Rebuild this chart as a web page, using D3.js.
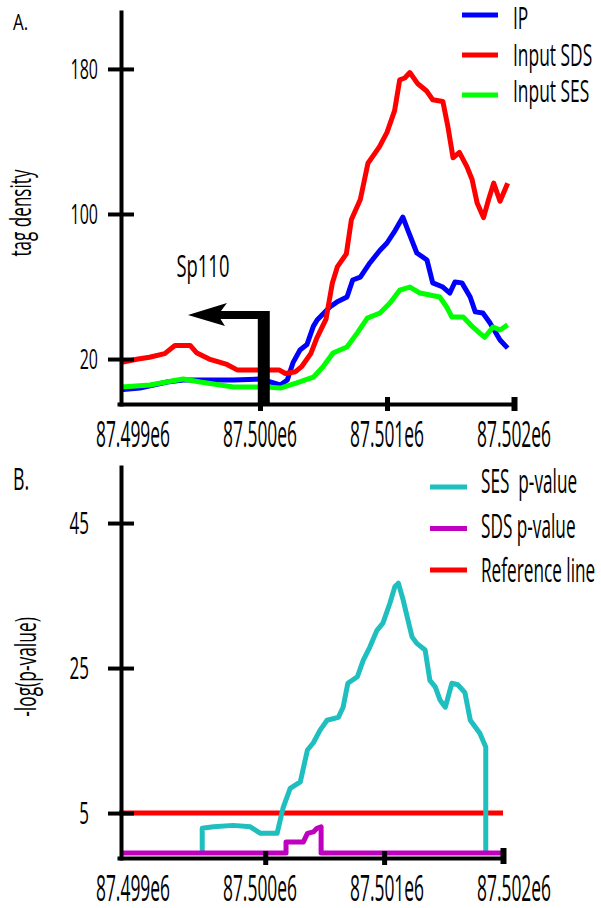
<!DOCTYPE html>
<html>
<head>
<meta charset="utf-8">
<script src="https://cdn.jsdelivr.net/npm/d3@7"></script>
<style>
body { margin: 0; background: #fff; }
svg { font-family: "Open Sans", sans-serif; }
text { white-space: pre; }
</style>
</head>
<body>
<svg width="601" height="908"></svg>
<script>
// x tick values / labels (shared by both panels)
var xTicks = [87499000, 87500000, 87501000, 87502000];
var xTickLabels = ["87.499e6", "87.500e6", "87.501e6", "87.502e6"];

// panel A
var topTicks = [20, 100, 180];
var ipPos = [87498900, 87499055, 87499270, 87499395, 87499790, 87500000, 87500160, 87500215, 87500260, 87500315, 87500370, 87500420, 87500450, 87500550, 87500605, 87500685, 87500730, 87500790, 87500865, 87500945, 87501000, 87501065, 87501125, 87501165, 87501235, 87501315, 87501360, 87501440, 87501495, 87501535, 87501590, 87501655, 87501695, 87501755, 87501810, 87501890, 87501950];
var ipVal = [3, 4, 7.3, 8.4, 8.4, 9, 5.7, 8.4, 18, 25, 28, 38, 41.5, 48.7, 51.4, 54.2, 63.6, 65.2, 73, 80, 84, 91, 98.3, 91, 78.5, 74.6, 62, 59.7, 56.4, 62.5, 62, 54.2, 46, 45.4, 40, 30.5, 26];
var sdsPos = [87498900, 87499040, 87499130, 87499250, 87499330, 87499450, 87499500, 87499600, 87499740, 87499820, 87500150, 87500200, 87500280, 87500330, 87500400, 87500450, 87500520, 87500570, 87500610, 87500680, 87500720, 87500790, 87500850, 87500940, 87501000, 87501060, 87501100, 87501140, 87501180, 87501240, 87501310, 87501360, 87501440, 87501480, 87501520, 87501570, 87501630, 87501670, 87501710, 87501760, 87501800, 87501840, 87501890, 87501950];
var sdsVal = [18, 20, 21, 23, 27.5, 27.5, 23.5, 20, 17, 14, 14, 12, 13, 16, 23, 32, 42, 62, 71, 78, 97, 108, 128, 137, 145, 157, 174, 175, 178, 172, 168, 163, 162, 148, 131, 134, 126, 119, 106, 98, 108, 117, 107, 117];
var sesPos = [87498910, 87499135, 87499395, 87499530, 87499790, 87500055, 87500160, 87500290, 87500420, 87500495, 87500575, 87500685, 87500765, 87500845, 87500945, 87501025, 87501100, 87501180, 87501260, 87501415, 87501470, 87501510, 87501600, 87501675, 87501730, 87501770, 87501835, 87501890, 87501950];
var sesVal = [4.6, 5.7, 9, 7.3, 4.6, 4.6, 4, 6.8, 10, 15.6, 23.3, 26.6, 34.3, 42.6, 45.4, 51, 58, 59.7, 56.4, 54.2, 48.7, 43.2, 43.2, 37.7, 34.3, 32, 37.7, 36, 38.8];
var topNames = ["IP", "Input SDS", "Input SES"];
var topColors = ["#0000ff", "#ff0000", "#00ff00"];

// gene TSS arrow (Sp110, minus strand)
var tssPos = 87500030, arrowTip = 87499433, arrowLevel = 44.3;

// panel B
var botTicks = [5, 25, 45];
var sesPPos = [87499470, 87499470, 87499565, 87499730, 87499875, 87499960, 87500100, 87500150, 87500210, 87500295, 87500355, 87500405, 87500460, 87500520, 87500615, 87500655, 87500695, 87500775, 87500825, 87500880, 87500940, 87500990, 87501050, 87501090, 87501120, 87501160, 87501195, 87501235, 87501275, 87501345, 87501385, 87501430, 87501470, 87501515, 87501570, 87501620, 87501680, 87501725, 87501765, 87501805, 87501855, 87501855];
var sesPVal = [-0.5, 2.9, 3.1, 3.3, 3.1, 2.2, 2.2, 5.7, 8.4, 9.3, 13.7, 14.7, 16.4, 17.8, 18.2, 19.6, 22.9, 23.8, 26.1, 27.9, 30.2, 31.2, 34, 36.2, 36.7, 34.4, 32, 29.3, 28.4, 27.5, 23.3, 22.4, 20.6, 19.6, 22.9, 22.7, 21.6, 17.8, 16.9, 16, 14.1, -0.5];
var sdsPPos = [87498800, 87500175, 87500175, 87500320, 87500355, 87500405, 87500435, 87500470, 87500470, 87502000];
var sdsPVal = [-0.5, -0.5, 1.0, 1.0, 2.2, 2.4, 2.9, 3.1, -0.5, -0.5];
var refPos = [87498770, 87502000];
var refVal = [5, 5];
var botNames = ["SES  p-value", "SDS p-value", "Reference line"];
var botColors = ["#1fbfbf", "#bf00bf", "#ff0000"];

var svg = d3.select("svg");

function zip(p, v) { return p.map(function (d, i) { return {pos: d, val: v[i]}; }); }

// tall, narrow text like in the original figure
function label(g, str, x, y, size, k, anchor) {
  return g.append("text")
    .attr("transform", "translate(" + x + "," + y + ") scale(1," + k + ")")
    .attr("font-size", size)
    .attr("text-anchor", anchor || "start")
    .attr("fill", "#000")
    .text(str);
}

var xA = d3.scaleLinear().domain([87498890, 87502000]).range([119, 514]);
var yA = d3.scaleLinear().domain([-4.8, 211.4]).range([404, 12]);
var xB = d3.scaleLinear().domain([87498770, 87502000]).range([119, 503]);
var yB = d3.scaleLinear().domain([-1.2, 52.73]).range([858, 467]);

var lineA = d3.line().x(function (d) { return xA(d.pos); }).y(function (d) { return yA(d.val); });
var lineB = d3.line().x(function (d) { return xB(d.pos); }).y(function (d) { return yB(d.val); });

// ---- panel A ----
var gA = svg.append("g");
[zip(ipPos, ipVal), zip(sdsPos, sdsVal), zip(sesPos, sesVal)].forEach(function (s, i) {
  gA.append("path").datum(s)
    .attr("fill", "none")
    .attr("stroke", topColors[i])
    .attr("stroke-width", 5)
    .attr("stroke-linejoin", "round")
    .attr("d", lineA);
});

// arrow
var aY = yA(arrowLevel);
gA.append("line")
  .attr("x1", xA(tssPos)).attr("x2", xA(tssPos))
  .attr("y1", yA.range()[0]).attr("y2", aY - 4)
  .attr("stroke", "#000").attr("stroke-width", 12);
gA.append("line")
  .attr("x1", xA(tssPos)).attr("x2", xA(arrowTip) + 30)
  .attr("y1", aY).attr("y2", aY)
  .attr("stroke", "#000").attr("stroke-width", 8);
var tx = xA(arrowTip);
gA.append("path")
  .attr("d", "M" + tx + "," + aY + "L" + (tx + 39) + "," + (aY - 12) + "L" + (tx + 30) + "," + aY + "L" + (tx + 37) + "," + (aY + 11) + "Z")
  .attr("fill", "#000");
label(gA, "Sp110", xA(87499551), yA(65), 18.4, 1.67, "middle");

// axes A
var axYA = gA.append("g").attr("transform", "translate(121,0)")
  .call(d3.axisLeft(yA).tickValues(topTicks).tickSizeOuter(0).tickFormat(""));
var axXA = gA.append("g").attr("transform", "translate(0,404)")
  .call(d3.axisBottom(xA).tickValues(xTicks.slice(1)).tickSizeOuter(0).tickFormat(""));
axYA.selectAll(".tick line").attr("x1", -13).attr("x2", 13);
axXA.selectAll(".tick line").attr("y1", -7).attr("y2", 7).attr("stroke-width", 5);
axXA.select(".tick:last-of-type line").attr("stroke-width", 6);
topTicks.forEach(function (t) { label(gA, String(t), 98, yA(t) + 10, 16, 1.75, "end"); });
xTicks.forEach(function (t, i) { label(gA, xTickLabels[i], xA(t), 447, 17.4, 2.1, "middle"); });

label(gA, "A.", 13, 30, 17, 1.3);
gA.append("text")
  .attr("transform", "translate(31,213) rotate(-90) scale(1,1.75)")
  .attr("font-size", 17.1).attr("text-anchor", "middle").text("tag density");

// legend A
topNames.forEach(function (n, i) {
  var ly = 15 + 40 * i;
  gA.append("line").attr("x1", 462).attr("x2", 498).attr("y1", ly).attr("y2", ly)
    .attr("stroke", topColors[i]).attr("stroke-width", 5);
  label(gA, n, 513, 29 + 36.5 * i, 17.4, 1.75);
});

// ---- panel B ----
var gB = svg.append("g");
[zip(refPos, refVal), zip(sesPPos, sesPVal), zip(sdsPPos, sdsPVal)].forEach(function (s, i) {
  gB.append("path").datum(s)
    .attr("fill", "none")
    .attr("stroke", [botColors[2], botColors[0], botColors[1]][i])
    .attr("stroke-width", 5)
    .attr("stroke-linejoin", "round")
    .attr("d", lineB);
});

var axYB = gB.append("g").attr("transform", "translate(121,0)")
  .call(d3.axisLeft(yB).tickValues(botTicks).tickSizeOuter(0).tickFormat(""));
var axXB = gB.append("g").attr("transform", "translate(0,858)")
  .call(d3.axisBottom(xB).tickValues(xTicks.slice(1)).tickSizeOuter(0).tickFormat(""));
axYB.selectAll(".tick line").attr("x1", -13).attr("x2", 13);
axXB.selectAll(".tick line").attr("y1", -7).attr("y2", 7).attr("stroke-width", 5);
axXB.select(".tick:last-of-type line").attr("stroke-width", 6).attr("y1", -10).attr("y2", 6);
botTicks.forEach(function (t) { label(gB, String(t), 89, yB(t) + 11, 17, 1.8, "end"); });
xTicks.forEach(function (t, i) { label(gB, xTickLabels[i], xA(t), 901, 17.4, 2.1, "middle"); });

label(gB, "B.", 13, 490, 17.8, 1.73);
gB.append("text")
  .attr("transform", "translate(36,667) rotate(-90) scale(1,1.7)")
  .attr("font-size", 17.4).attr("text-anchor", "middle").text("-log(p-value)");

botNames.forEach(function (n, i) {
  var ly = 487 + 41.5 * i;
  gB.append("line").attr("x1", 430).attr("x2", 467).attr("y1", ly).attr("y2", ly)
    .attr("stroke", botColors[i]).attr("stroke-width", 5);
  label(gB, n, 481, 493 + 44.5 * i, 17.2, 1.9);
});

// axis styling
svg.selectAll(".domain").attr("stroke", "#000").attr("stroke-width", 4).attr("stroke-linecap", "square");
svg.selectAll(".tick line").attr("stroke", "#000").filter(function () { return !d3.select(this).attr("stroke-width"); }).attr("stroke-width", 4);
</script>
</body>
</html>
